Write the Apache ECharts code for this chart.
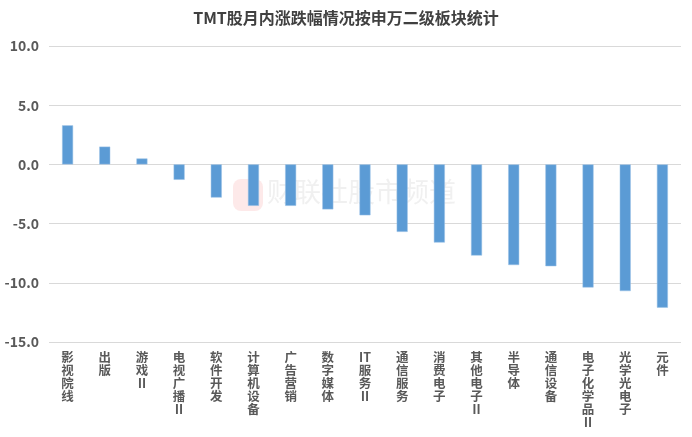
<!DOCTYPE html>
<html>
<head>
<meta charset="utf-8">
<script src="https://cdn.jsdelivr.net/npm/echarts@6/dist/echarts.min.js"></script>
<style>
  html, body { margin: 0; padding: 0; background: #fff; }
  #chart { width: 692px; height: 437px; }
</style>
</head>
<body>
<div id="chart"></div>
<script>
// 申万二级板块
const categories = ['影视院线', '出版', '游戏Ⅱ', '电视广播Ⅱ', '软件开发', '计算机设备', '广告营销', '数字媒体',
    'IT服务Ⅱ', '通信服务', '消费电子', '其他电子Ⅱ', '半导体', '通信设备', '电子化学品Ⅱ', '光学光电子', '元件']
// 月内涨跌幅(%)
const values = [3.3, 1.5, 0.5, -1.3, -2.8, -3.5, -3.5, -3.8, -4.3, -5.7, -6.6, -7.7, -8.5, -8.6, -10.4, -10.7, -12.1]
const yMin = -15
const yMax = 10
const yStep = 5

let myChart = echarts.init(document.getElementById('chart'))
const font = '"Noto Sans CJK SC", "Noto Sans", sans-serif'
const options = {
    animation: false,
    title: {
        text: 'TMT股月内涨跌幅情况按申万二级板块统计',
        left: 'center',
        top: 5,
        textStyle: {
            fontFamily: font,
            fontSize: 16,
            fontWeight: 'bold',
            color: '#404040'
        }
    },
    grid: {
        left: 49,
        right: 11,
        top: 46,
        bottom: 95,
        outerBoundsMode: 'none'
    },
    //水印
    graphic: [
        {
            type: 'rect',
            left: 233,
            top: 179,
            shape: { width: 30, height: 32, r: 8 },
            style: { fill: 'rgba(240,120,120,0.16)' },
            z: 0
        },
        {
            type: 'text',
            left: 267,
            top: 178,
            style: {
                text: '财联社股市频道',
                fontFamily: font,
                fontSize: 27,
                fill: 'rgba(180,180,180,0.2)'
            },
            z: 0
        }
    ],
    xAxis: {
        type: 'category',
        data: categories,
        position: 'bottom',
        axisLine: { show: false },
        axisTick: { show: false },
        axisLabel: {
            interval: 0,
            margin: 9,
            verticalAlign: 'top',
            fontFamily: font,
            fontSize: 12.5,
            fontWeight: 'bold',
            lineHeight: 13,
            color: '#595959',
            formatter: name => name.match(/IT|./g).join('\n')
        }
    },
    yAxis: {
        type: 'value',
        min: yMin,
        max: yMax,
        interval: yStep,
        axisLine: { show: false },
        axisTick: { show: false },
        splitLine: { lineStyle: { color: '#D9D9D9', width: 1 } },
        axisLabel: {
            margin: 10,
            fontFamily: font,
            fontSize: 14,
            fontWeight: 'bold',
            color: '#595959',
            formatter: v => v.toFixed(1)
        }
    },
    series: [
        {
            type: 'bar',
            data: values,
            barWidth: 11,
            itemStyle: {
                color: '#5B9BD5',
                borderColor: '#9DC3E6',
                borderWidth: 0.5
            },
            z: 2
        }
    ]
}
myChart.setOption(options)
</script>
</body>
</html>
